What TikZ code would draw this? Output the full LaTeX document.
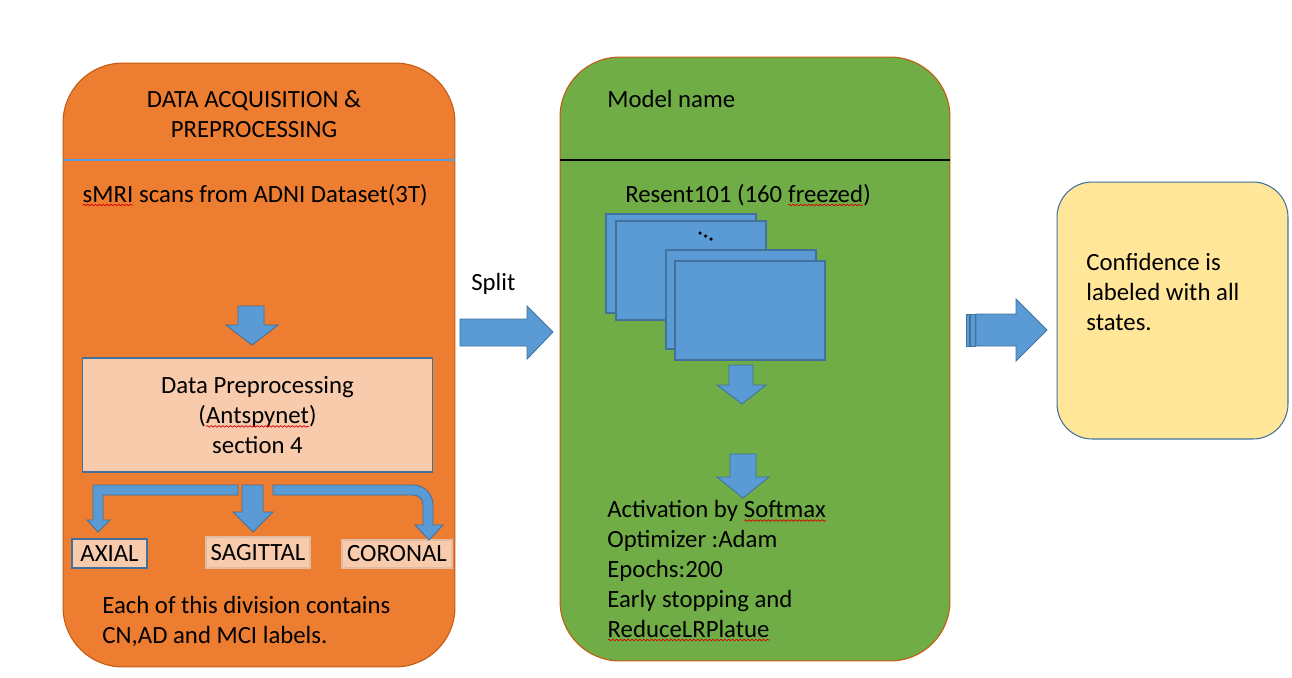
\documentclass[tikz,border=0pt]{standalone}
\usepackage{fontspec}
\setmainfont{Carlito}
\usetikzlibrary{positioning,decorations.pathmorphing}

\definecolor{acqorange}{HTML}{ED7D31}
\definecolor{paneledge}{HTML}{C55A11}
\definecolor{modelgreen}{HTML}{70AD47}
\definecolor{peach}{HTML}{F8CBAD}
\definecolor{arrowblue}{HTML}{5B9BD5}
\definecolor{edgeblue}{HTML}{41719C}
\definecolor{notebg}{HTML}{FFE699}

% red wavy mark of the spell checker
\newcommand{\spellmark}[1]{\tikz[baseline=(sw.base)]{\node[draw=none,fill=none,inner sep=0pt,outer sep=0pt,
    minimum width=0pt,minimum height=0pt] (sw) {#1};
  \draw[red!85!black,line width=0.4pt,decorate,decoration={snake,amplitude=0.45pt,segment length=2.2pt}]
    ([yshift=-1.7pt]sw.base west) -- ([yshift=-1.7pt]sw.base east);}}

\tikzset{
  txt/.style={font=\fontsize{14.1}{17}\selectfont, inner sep=0pt},
  panel/.style={draw=paneledge, line width=0.6pt, rounded corners=34pt, inner sep=0pt},
  peachbox/.style={draw=edgeblue, fill=peach, line width=0.6pt, inner sep=0pt},
  layer/.style={draw=edgeblue, fill=arrowblue, line width=0.6pt, inner sep=0pt,
    minimum width=3cm, minimum height=1.98cm},
  blockarrow/.style={fill=arrowblue, draw=edgeblue, line width=0.5pt},
}

\begin{document}
\begin{tikzpicture}[x=0.02cm,y=-0.02cm]
  \useasboundingbox (0,0) rectangle (1292,677);

  % panels
  \node[panel, fill=acqorange, minimum width=7.84cm, minimum height=12.08cm] (acq) at (259,365) {};
  \node[panel, fill=modelgreen, minimum width=7.8cm, minimum height=12.08cm] (model) at (755,359) {};
  \node[draw=edgeblue, fill=notebg, line width=0.6pt, rounded corners=20pt,
        minimum width=4.62cm, minimum height=5.14cm] (result) at (1172.5,310.5) {};
  \draw[arrowblue, line width=0.6pt] (63,160) -- (455,160);
  \draw[black, line width=0.6pt] (560,160) -- (950,160);

  % left panel
  \node[txt, align=center, anchor=base] (acqtitle) at (254,137) {DATA ACQUISITION \&\\PREPROCESSING};
  \node[txt, anchor=base west] (scans) at (82,202) {\spellmark{sMRI} scans from ADNI Dataset(3T)};
  \node[peachbox, txt, align=center, minimum width=7.02cm, minimum height=2.28cm] (prep) at (257.5,415)
    {Data Preprocessing\\(\spellmark{Antspynet})\\section 4};
  \node[peachbox, txt, minimum width=1.5cm, minimum height=0.58cm] (axial) at (109.5,553.5) {AXIAL};
  \node[peachbox, txt, draw=peach!80!gray, minimum width=2.08cm, minimum height=0.62cm] (sagittal) at (258,552.5) {SAGITTAL};
  \node[peachbox, txt, draw=peach!80!gray, minimum width=2.2cm, minimum height=0.56cm] (coronal) at (397,554) {CORONAL};
  \node[txt, align=left, anchor=base west] (labels) at (102,643) {Each of this division contains\\CN,AD and MCI labels.};

  \filldraw[blockarrow] (238,306) -- (264,306) -- (264,325) -- (278,325) -- (252,345) -- (226,325) -- (238,325) -- cycle;
  \filldraw[blockarrow] (238,485) -- (93,485) -- (93,520) -- (87,520) -- (98,532) -- (110,520) -- (103,520)
    -- (103,495) -- (238,495) -- cycle;
  \filldraw[blockarrow] (242,485) -- (263,485) -- (263,512) -- (273,512) -- (253,532) -- (233,512) -- (242,512) -- cycle;
  \filldraw[blockarrow] (273,485) -- (413,485) .. controls (424,485) and (433,494) .. (433,505) -- (433,525)
    -- (443,525) -- (429,540) -- (415,525) -- (423,525) -- (423,505) .. controls (423,499) and (419,495) .. (413,495)
    -- (273,495) -- cycle;

  % split
  \node[txt, anchor=base west] (split) at (471,290) {Split};
  \filldraw[blockarrow] (460,319) -- (527,319) -- (527,306) -- (553,332) -- (527,359) -- (527,346) -- (460,346) -- cycle;

  % model panel
  \node[txt, anchor=base west] (modelname) at (607,107) {Model name};
  \node[txt, anchor=base west] (resnet) at (625,202) {Resent101 (160 \spellmark{freezed})};
  \node[layer] (layer1) at (681,263.5) {};
  \node[layer] (layer2) at (691,270.5) {};
  \node[layer] (layer3) at (741,299.5) {};
  \node[layer] (layer4) at (750,310.5) {};
  \foreach \dx/\dy in {700/233, 705.5/236, 711/239}
    \fill (\dx,\dy) circle (1pt);
  \filldraw[blockarrow] (729,365) -- (753,365) -- (753,385) -- (766,385) -- (742,404) -- (717,385) -- (729,385) -- cycle;
  \filldraw[blockarrow] (730,454) -- (756,454) -- (756,477) -- (769,477) -- (743,498) -- (717,477) -- (730,477) -- cycle;
  \node[txt, align=left, anchor=base west] (training) at (607,637)
    {Activation by \spellmark{Softmax}\\Optimizer :Adam\\Epochs:200\\Early stopping and\\\spellmark{ReduceLRPlatue}};

  % output
  \fill[arrowblue] (966,314) rectangle (969,346);
  \fill[arrowblue] (970,314) rectangle (975,346);
  \draw[edgeblue, line width=0.4pt] (966,314) rectangle (969,346) (970,314) rectangle (975,346);
  \filldraw[blockarrow] (976,314) -- (1016,314) -- (1016,299) -- (1047,330) -- (1016,361) -- (1016,346) -- (976,346) -- cycle;
  \node[txt, align=left, anchor=base west] (confidence) at (1086,330) {Confidence is\\labeled with all\\states.};
\end{tikzpicture}
\end{document}
